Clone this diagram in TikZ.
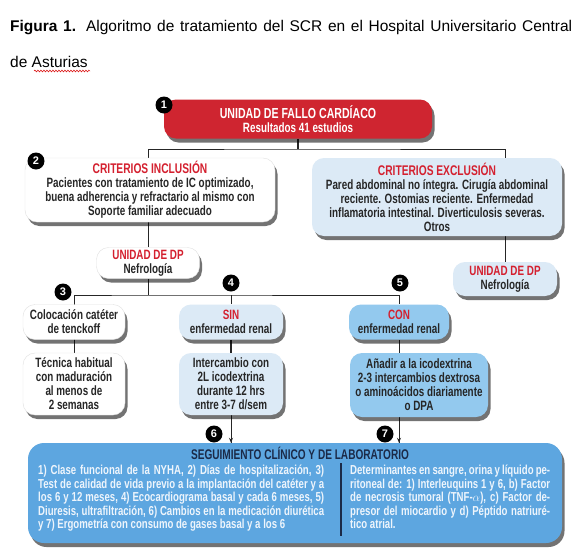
\documentclass[tikz,border=0pt]{standalone}
\usepackage{fontspec}
\setmainfont{Liberation Sans}
\newfontfamily\cf[FakeStretch=0.73]{Liberation Sans}
\newfontfamily\cfb[FakeStretch=0.74]{Liberation Sans}
\newfontfamily\cft[FakeStretch=0.72]{Liberation Sans}
\usetikzlibrary{shadows,decorations.pathmorphing,arrows.meta,backgrounds}
\definecolor{redbox}{HTML}{CF2530}
\definecolor{titred}{HTML}{D4202F}
\definecolor{paleblue}{HTML}{DCEAF6}
\definecolor{midblue}{HTML}{93C9EE}
\definecolor{segblue}{HTML}{5DA6E0}
\definecolor{navy}{HTML}{1B2A48}
\definecolor{ink}{HTML}{262626}
\definecolor{segtext}{HTML}{EEF5FC}
\begin{document}
\begin{tikzpicture}[x=1pt,y=-1pt,
  boxbase/.style={rounded corners=12pt, align=center, inner sep=0pt,
    font=\cf\bfseries\fontsize{13.5}{14}\selectfont, text=ink,
    drop shadow={shadow xshift=2.5pt, shadow yshift=-4pt, opacity=0.55, fill=black}},
  whitebox/.style={boxbase, fill=white, draw=black!12},
  palebox/.style={boxbase, fill=paleblue},
  midbox/.style={boxbase, fill=midblue},
  num/.style={circle, fill=black, text=white, inner sep=0pt, minimum size=17pt,
    font=\bfseries\fontsize{11}{11}\selectfont},
  conn/.style={draw=ink, line width=0.9pt},
  segtxt/.style={anchor=base west, inner sep=0pt, text=segtext,
    font=\cfb\bfseries\fontsize{13}{13}\selectfont},
]
\useasboundingbox (0,0) rectangle (582,560);

% caption
\node[anchor=base west, inner sep=0pt, font=\fontsize{15.5}{18}\selectfont] (cap1) at (10,31)
  {\makebox[562pt][s]{\textbf{Figura 1.} Algoritmo de tratamiento del SCR en el Hospital Universitario Central}};
\node[anchor=base west, inner sep=0pt, font=\fontsize{15.5}{18}\selectfont] (cap2) at (10,67)
  {de Asturias};
\draw[red!85!black, line width=0.5pt, decorate, decoration={snake, amplitude=0.9pt, segment length=3pt}]
  (34,71) -- (90,71);

% top box
\node[boxbase, fill=redbox, text=white, minimum width=268pt, minimum height=39pt] (n1) at (298,119)
  {{\fontsize{14.5}{14}\selectfont UNIDAD DE FALLO CARDÍACO}\\Resultados 41 estudios};

% second row
\node[whitebox, minimum width=250pt, minimum height=64pt] (n2) at (150,190)
  {{\color{titred}\fontsize{14}{14}\selectfont CRITERIOS INCLUSIÓN}\\Pacientes con tratamiento de IC optimizado,\\buena adherencia y refractario al mismo con\\Soporte familiar adecuado};
\node[palebox, minimum width=250pt, minimum height=78pt] (ex) at (437,197)
  {{\color{titred}\fontsize{14}{14}\selectfont CRITERIOS EXCLUSIÓN}\\Pared abdominal no íntegra. Cirugía abdominal\\reciente. Ostomias reciente. Enfermedad\\inflamatoria intestinal. Diverticulosis severas.\\Otros};

% DP units
\node[whitebox, minimum width=103pt, minimum height=31pt] (dpl) at (148,263)
  {{\color{titred}UNIDAD DE DP}\\Nefrología};
\node[palebox, minimum width=104pt, minimum height=34pt] (dpr) at (505,279)
  {{\color{titred}UNIDAD DE DP}\\Nefrología};

% third row
\node[whitebox, minimum width=102pt, minimum height=35pt] (c1a) at (74,322)
  {Colocación catéter\\de tenckoff};
\node[whitebox, minimum width=102pt, minimum height=62pt] (c1b) at (74,384)
  {Técnica habitual\\con maduración\\al menos de\\2 semanas};
\node[palebox, minimum width=104pt, minimum height=35pt] (sin) at (231,322)
  {{\color{titred}SIN}\\enfermedad renal};
\node[palebox, minimum width=104pt, minimum height=62pt] (sin2) at (231,384)
  {Intercambio con\\2L icodextrina\\durante 12 hrs\\entre 3-7 d/sem};
\node[midbox, minimum width=100pt, minimum height=35pt] (con) at (399,322)
  {{\color{titred}CON}\\enfermedad renal};
\node[midbox, minimum width=138pt, minimum height=64pt] (con2) at (419,385)
  {Añadir a la icodextrina\\2-3 intercambios dextrosa\\o aminoácidos diariamente\\o DPA};

% bottom box
\node[boxbase, fill=segblue, minimum width=534pt, minimum height=100pt, rounded corners=16pt] (seg) at (295,493) {};
\node[anchor=base, inner sep=0pt, text=navy, font=\cft\bfseries\fontsize{14}{14}\selectfont] (segt) at (300,459)
  {SEGUIMIENTO CLÍNICO Y DE LABORATORIO};
\node[segtxt] (l1) at (38,474) {\makebox[286pt][s]{1) Clase funcional de la NYHA, 2) Días de hospitalización, 3)}};
\node[segtxt] (l2) at (38,488) {\makebox[286pt][s]{Test de calidad de vida previo a la implantación del catéter y a}};
\node[segtxt] (l3) at (38,501) {\makebox[286pt][s]{los 6 y 12 meses, 4) Ecocardiograma basal y cada 6 meses, 5)}};
\node[segtxt] (l4) at (38,515) {\makebox[286pt][s]{Diuresis, ultrafiltración, 6) Cambios en la medicación diurética}};
\node[segtxt] (l5) at (38,528) {y 7) Ergometría con consumo de gases basal y a los 6};
\node[segtxt] (r1) at (350,474) {\makebox[200pt][s]{Determinantes en sangre, orina y líquido pe-}};
\node[segtxt] (r2) at (350,488) {\makebox[200pt][s]{ritoneal de: 1) Interleuquins 1 y 6, b) Factor}};
\node[segtxt] (r3) at (350,501) {\makebox[200pt][s]{de necrosis tumoral (TNF-$\alpha$), c) Factor de-}};
\node[segtxt] (r4) at (350,515) {\makebox[200pt][s]{presor del miocardio y d) Péptido natriuré-}};
\node[segtxt] (r5) at (350,528) {tico atrial.};
\draw[navy, line width=1.3pt] (341,463) -- (341,536);

% numbers
\node[num] (k1) at (164,105) {1};
\node[num] (k2) at (36,161) {2};
\node[num] (k3) at (63,292) {3};
\node[num] (k4) at (231,283) {4};
\node[num] (k5) at (400,283) {5};
\node[num] (k6) at (214,434) {6};
\node[num] (k7) at (385,434) {7};

% connectors
\begin{scope}[on background layer]
\fill[white] (0,0) rectangle (582,560);
\coordinate (j1) at (n1.south |- {(0,149)});
\coordinate (j2) at (dpl.south |- {(0,295)});
\draw[conn, line width=1.8pt] (n1.south) -- (j1);
\draw[conn] (dpl.north) |- (j1) -| (dpr.north);
\draw[conn] (dpl.south) -- (j2);
\draw[conn] (c1b.north) |- (j2) -| (con.north);
\draw[conn] (sin.north |- j2) -- (sin.north);
\draw[conn, line width=1.8pt] (sin.south) -- (sin2.north);
\draw[conn] (con.south) -- (con.south |- con2.north);
\draw[conn] (sin2.south) -- (sin2.south |- seg.north);
\draw[conn] (con.south |- con2.south) -- (con.south |- seg.north);
\end{scope}
\draw[-{Stealth[length=5pt,width=4pt]}, conn] ([yshift=-8pt]sin2.south) -- (sin2.south |- seg.north);
\draw[-{Stealth[length=5pt,width=4pt]}, conn] ([yshift=-8pt]con.south |- con2.south) -- (con.south |- seg.north);
\end{tikzpicture}
\end{document}
